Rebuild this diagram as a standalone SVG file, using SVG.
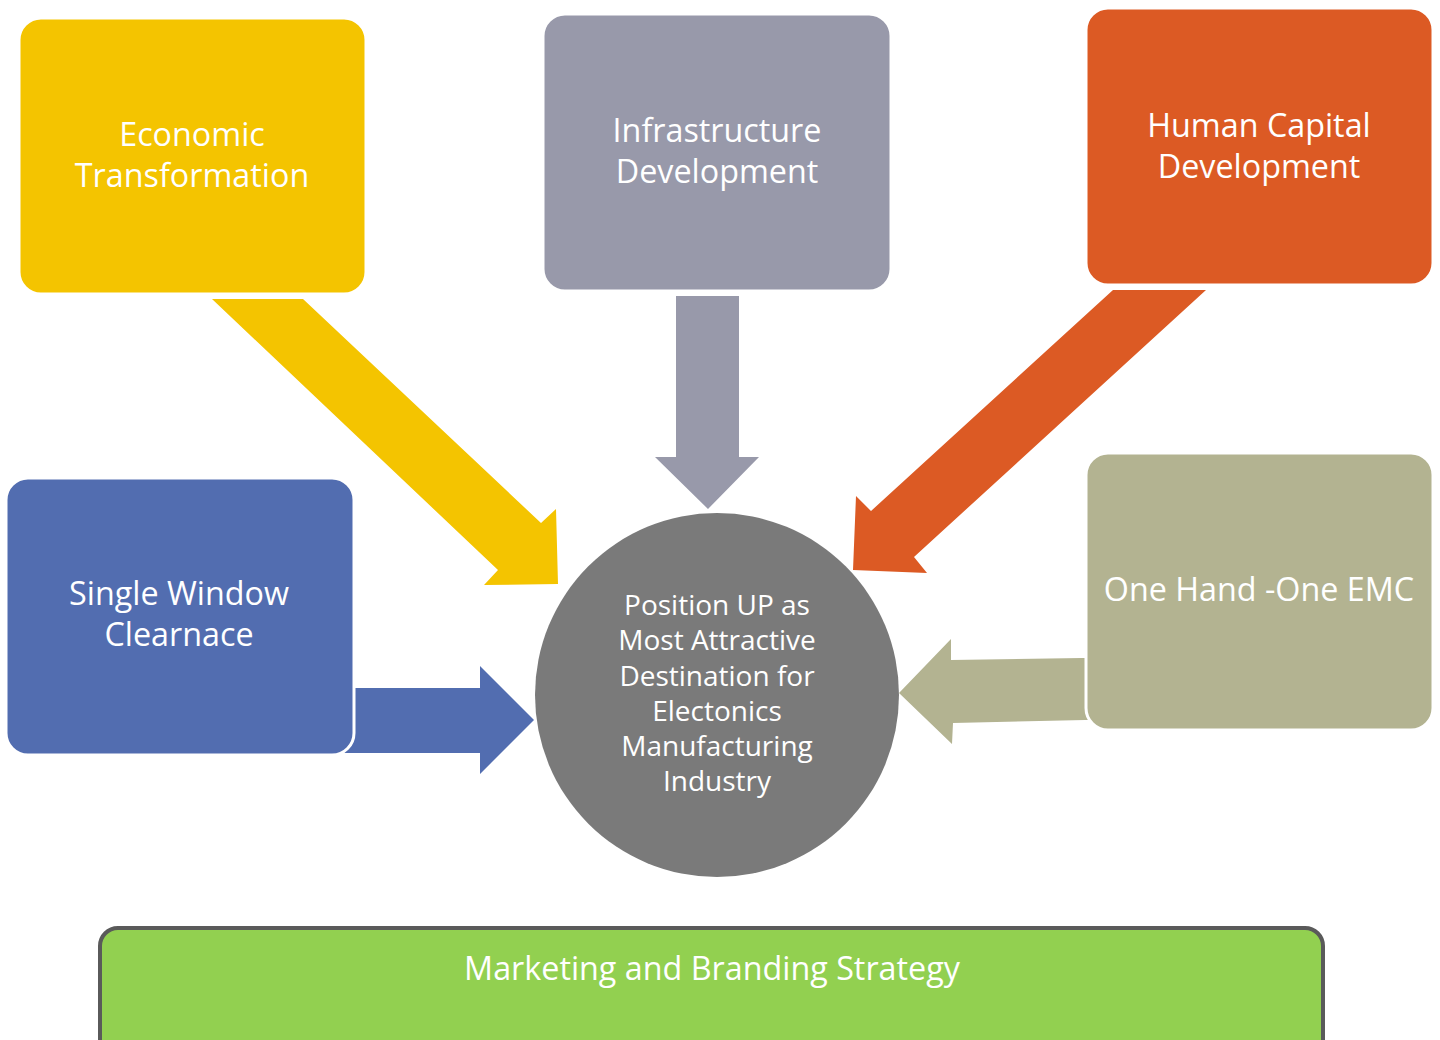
<svg xmlns="http://www.w3.org/2000/svg" width="1440" height="1040" viewBox="0 0 1440 1040">
<style>
.box{stroke:#FFFFFF;stroke-width:3}
.t{font-family:"Open Sans","Noto Sans",sans-serif;fill:#FFFFFF;text-anchor:middle}
.big{font-size:32.3px}
.small{font-size:28px}
</style>
<rect x="0" y="0" width="1440" height="1040" fill="#FFFFFF"/>
<g id="connectors">
<polygon fill="#F4C400" points="212,299 303,299 541,523 556,509 558,584 484,585 498,570"/>
<polygon fill="#9899AA" points="676,296 739,296 739,457 759,457 708,509 655,457 676,457"/>
<polygon fill="#DC5A24" points="1113,290 1206,290 914,557 927,573 853,570 856,496 871,511"/>
<polygon fill="#526DB0" points="340,688 480,688 480,666 534,720 480,774 480,753 340,753"/>
<polygon fill="#B3B391" points="1095,658 1082,658 951,660 951,639 899,693 952,744 953,723 1085,720 1095,720"/>
</g>
<g id="node-economic">
<rect class="box" x="19" y="18" width="347" height="276" rx="22" fill="#F4C400"/>
<text class="t big" x="192" y="146">Economic</text>
<text class="t big" x="192" y="187">Transformation</text>
</g>
<g id="node-infrastructure">
<rect class="box" x="543" y="14" width="348" height="277" rx="22" fill="#9899AA"/>
<text class="t big" x="717" y="142">Infrastructure</text>
<text class="t big" x="717" y="183">Development</text>
</g>
<g id="node-human">
<rect class="box" x="1086" y="8" width="347" height="277" rx="22" fill="#DC5A24"/>
<text class="t big" x="1259" y="137">Human Capital</text>
<text class="t big" x="1259" y="178">Development</text>
</g>
<g id="node-single">
<rect class="box" x="6" y="478" width="348" height="277" rx="22" fill="#526DB0"/>
<text class="t big" x="179" y="605">Single Window</text>
<text class="t big" x="179" y="646">Clearnace</text>
</g>
<g id="node-onehand">
<rect class="box" x="1086" y="453" width="347" height="277" rx="22" fill="#B3B391"/>
<text class="t big" x="1259" y="601">One Hand -One EMC</text>
</g>
<g id="node-center">
<circle cx="717" cy="695" r="182" fill="#7A7A7A"/>
<text class="t small" x="717" y="615">Position UP as</text>
<text class="t small" x="717" y="650">Most Attractive</text>
<text class="t small" x="717" y="686">Destination for</text>
<text class="t small" x="717" y="721">Electonics</text>
<text class="t small" x="717" y="756">Manufacturing</text>
<text class="t small" x="717" y="791">Industry</text>
</g>
<g id="node-marketing">
<rect x="100" y="928" width="1223" height="130" rx="18" fill="#92D050" stroke="#5A5A5A" stroke-width="4"/>
<text class="t big" x="712" y="980">Marketing and Branding Strategy</text>
</g>
</svg>
